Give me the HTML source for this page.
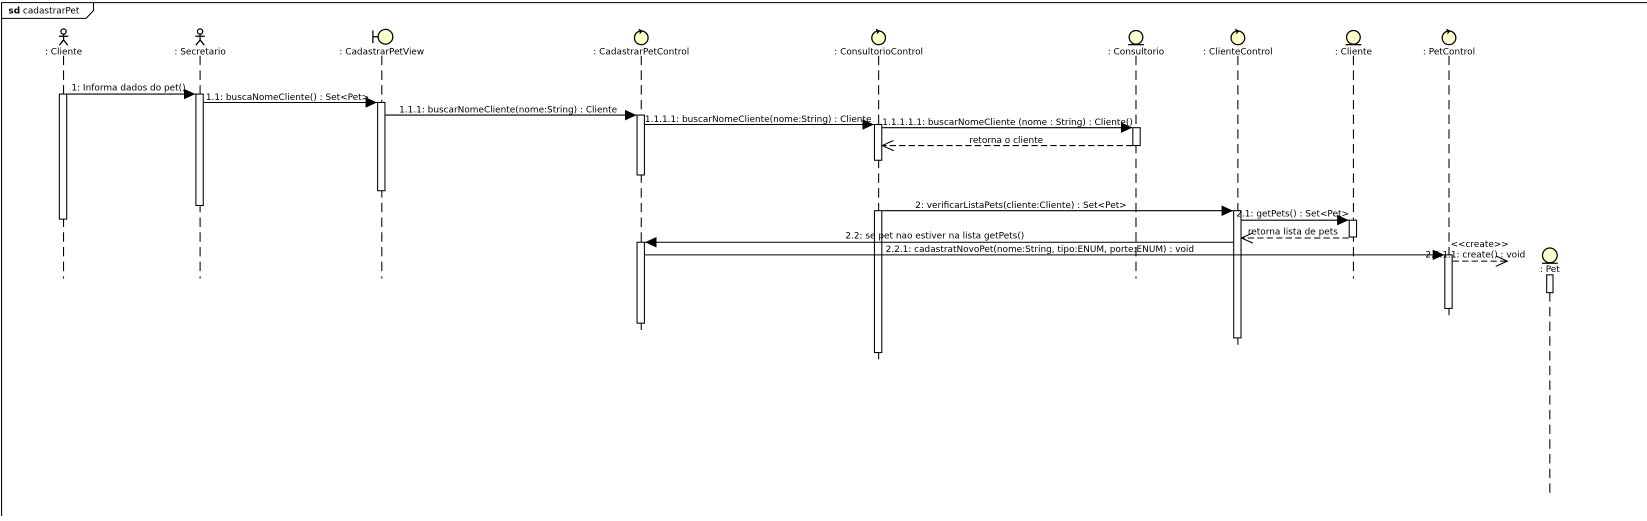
<!DOCTYPE html>
<html><head><style>
html,body{margin:0;padding:0;background:#fff;}
svg text{font-family:"DejaVu Sans","Liberation Sans",sans-serif;font-size:8.5px;fill:#000;}
</style></head><body>
<svg width="1647" height="516" viewBox="0 0 1568 491" preserveAspectRatio="none" xmlns="http://www.w3.org/2000/svg">
<defs>
<marker id="f" markerWidth="12" markerHeight="10" refX="11" refY="5" orient="auto" markerUnits="userSpaceOnUse"><path d="M0,0 L11,5 L0,10 Z" fill="#000"/></marker>
<marker id="o" markerWidth="12" markerHeight="10" refX="11" refY="5" orient="auto" markerUnits="userSpaceOnUse"><path d="M0,0 L11,5 L0,10" fill="none" stroke="#000"/></marker>
</defs>
<path d="M1.5,516 L1.5,2.5 L1647,2.5" fill="none" stroke="#000"/>
<path d="M1.5,17.5 L82,17.5 L89,10 L89,2.5" fill="none" stroke="#000"/>
<text x="8" y="13"><tspan font-weight="bold">sd</tspan> cadastrarPet</text>

<g stroke="#000" fill="none" stroke-width="1">
<g stroke-dasharray="9,5">
<line x1="60.5" y1="53" x2="60.5" y2="265"/>
<line x1="190.5" y1="53" x2="190.5" y2="265"/>
<line x1="363.5" y1="53" x2="363.5" y2="265"/>
<line x1="610.5" y1="53" x2="610.5" y2="315"/>
<line x1="836.5" y1="53" x2="836.5" y2="343"/>
<line x1="1081.5" y1="53" x2="1081.5" y2="265"/>
<line x1="1178.5" y1="53" x2="1178.5" y2="328"/>
<line x1="1288.5" y1="53" x2="1288.5" y2="265"/>
<line x1="1379.5" y1="53" x2="1379.5" y2="303"/>
<line x1="1475.5" y1="278" x2="1475.5" y2="472"/>
</g>
</g>
<g stroke="#000" stroke-width="1.2" fill="none">
<circle cx="60.5" cy="30" r="2.5"/><path d="M60.5,32.5 V38 M56,34.5 H65 M60.5,38 L56.5,43 M60.5,38 L64.5,43"/>
<circle cx="190.5" cy="30" r="2.5"/><path d="M190.5,32.5 V38 M186,34.5 H195 M190.5,38 L186.5,43 M190.5,38 L194.5,43"/>
</g>
<g stroke="#000" stroke-width="1.2" fill="#ffffcc">
<circle cx="367" cy="35" r="7"/><path d="M355,35 H360 M355,29 V41" fill="none"/>
<circle cx="610.5" cy="36" r="6.5"/><path d="M608,28 L611,29.5 L609,32" fill="none"/>
<circle cx="836.5" cy="36" r="6.5"/><path d="M834,28 L837,29.5 L835,32" fill="none"/>
<circle cx="1178.5" cy="36" r="6.5"/><path d="M1176,28 L1179,29.5 L1177,32" fill="none"/>
<circle cx="1379.5" cy="36" r="6.5"/><path d="M1377,28 L1380,29.5 L1378,32" fill="none"/>
<circle cx="1081.5" cy="35.5" r="6.5"/><path d="M1074,42.5 H1089" fill="none"/>
<circle cx="1288.5" cy="35.5" r="6.5"/><path d="M1281,42.5 H1296" fill="none"/>
<circle cx="1475.5" cy="243" r="7"/><path d="M1468,250.5 H1483" fill="none"/>
</g>
<g text-anchor="middle">
<text x="60.5" y="52">: Cliente</text>
<text x="190.5" y="52">: Secretario</text>
<text x="363.5" y="52">: CadastrarPetView</text>
<text x="610.5" y="52">: CadastrarPetControl</text>
<text x="836.5" y="52">: ConsultorioControl</text>
<text x="1081.5" y="52">: Consultorio</text>
<text x="1178.5" y="52">: ClienteControl</text>
<text x="1288.5" y="52">: Cliente</text>
<text x="1379.5" y="52">: PetControl</text>
<text x="1475.5" y="259">: Pet</text>
</g>
<g stroke="#000" fill="#fff">
<rect x="56.5" y="89.5" width="7" height="119"/>
<rect x="186.5" y="89.5" width="7" height="106"/>
<rect x="359.5" y="97.5" width="7" height="84"/>
<rect x="606.5" y="109.5" width="7" height="57"/>
<rect x="606.5" y="230.5" width="7" height="77"/>
<rect x="832.5" y="118.5" width="7" height="34"/>
<rect x="832.5" y="200.5" width="7" height="135"/>
<rect x="1078.5" y="121.5" width="7" height="17"/>
<rect x="1174.5" y="200.5" width="7" height="121"/>
<rect x="1284.5" y="209.5" width="7" height="16"/>
<rect x="1375.5" y="242.5" width="7" height="51"/>
<rect x="1472.5" y="261.5" width="6" height="17"/>
</g>
<g stroke="#000" fill="none">
<line x1="64" y1="89.5" x2="186" y2="89.5" marker-end="url(#f)"/>
<line x1="194" y1="97.5" x2="359" y2="97.5" marker-end="url(#f)"/>
<line x1="367" y1="109.5" x2="606" y2="109.5" marker-end="url(#f)"/>
<line x1="614" y1="118.5" x2="832" y2="118.5" marker-end="url(#f)"/>
<line x1="840" y1="121.5" x2="1078" y2="121.5" marker-end="url(#f)"/>
<line x1="1078" y1="138.5" x2="840" y2="138.5" stroke-dasharray="6,3" marker-end="url(#o)"/>
<line x1="840" y1="200.5" x2="1174" y2="200.5" marker-end="url(#f)"/>
<line x1="1182" y1="209.5" x2="1284" y2="209.5" marker-end="url(#f)"/>
<line x1="1284" y1="226.5" x2="1182" y2="226.5" stroke-dasharray="6,3" marker-end="url(#o)"/>
<line x1="1174" y1="230.5" x2="614" y2="230.5" marker-end="url(#f)"/>
<line x1="614" y1="242.5" x2="1375" y2="242.5" marker-end="url(#f)"/>
<line x1="1383" y1="248.5" x2="1435" y2="248.5" stroke-dasharray="6,3" marker-end="url(#o)"/>
</g>
<text x="68" y="86">1: Informa dados do pet()</text>
<text x="196" y="95">1.1: buscaNomeCliente() : Set&lt;Pet&gt;</text>
<text x="380" y="107">1.1.1: buscarNomeCliente(nome:String) : Cliente</text>
<text x="614" y="116">1.1.1.1: buscarNomeCliente(nome:String) : Cliente</text>
<text x="840" y="119">1.1.1.1.1: buscarNomeCliente (nome : String) : Cliente()</text>
<text x="958" y="136" text-anchor="middle">retorna o cliente</text>
<text x="972" y="198" text-anchor="middle">2: verificarListaPets(cliente:Cliente) : Set&lt;Pet&gt;</text>
<text x="1177" y="206">2.1: getPets() : Set&lt;Pet&gt;</text>
<text x="1188" y="223">retorna lista de pets</text>
<text x="890" y="227" text-anchor="middle">2.2: se pet nao estiver na lista getPets()</text>
<text x="990" y="240" text-anchor="middle">2.2.1: cadastratNovoPet(nome:String, tipo:ENUM, porte:ENUM) : void</text>
<text x="1381" y="235">&lt;&lt;create&gt;&gt;</text>
<text x="1357" y="245">2.2.1.1: create() : void</text>
</svg>
</body></html>
